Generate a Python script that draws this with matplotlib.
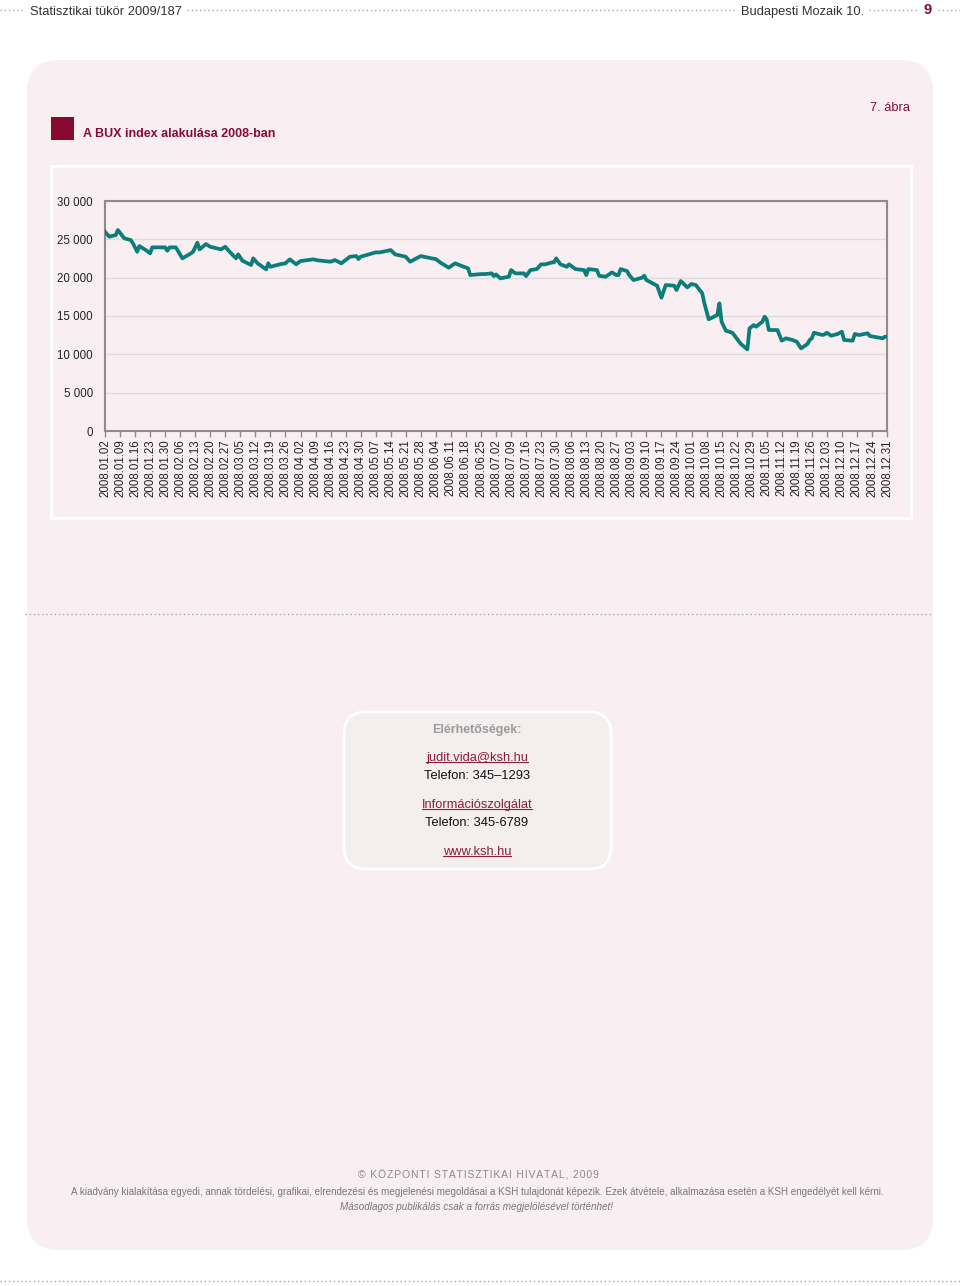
import matplotlib
matplotlib.use("Agg")
import matplotlib.pyplot as plt
import pandas as pd
from matplotlib.patches import FancyBboxPatch, Rectangle

# BUX daily closes (dates / values, month by month)
dates = [
    "2008-01-02", "2008-01-04", "2008-01-07", "2008-01-08", "2008-01-11", "2008-01-14", "2008-01-15",
    "2008-01-17", "2008-01-18", "2008-01-21", "2008-01-23", "2008-01-24", "2008-01-30", "2008-01-31",
    "2008-02-01", "2008-02-04", "2008-02-07", "2008-02-11", "2008-02-12", "2008-02-14", "2008-02-15",
    "2008-02-18", "2008-02-20", "2008-02-25", "2008-02-27", "2008-02-29",
    "2008-03-03", "2008-03-04", "2008-03-06", "2008-03-10", "2008-03-11", "2008-03-13", "2008-03-17",
    "2008-03-18", "2008-03-19", "2008-03-24", "2008-03-26", "2008-03-28", "2008-03-31",
    "2008-04-02", "2008-04-08", "2008-04-10", "2008-04-16", "2008-04-18", "2008-04-21", "2008-04-25",
    "2008-04-28", "2008-04-29", "2008-04-30",
    "2008-05-07", "2008-05-09", "2008-05-14", "2008-05-16", "2008-05-21", "2008-05-23", "2008-05-28",
    "2008-06-02", "2008-06-04", "2008-06-06", "2008-06-10", "2008-06-13", "2008-06-17", "2008-06-19",
    "2008-06-20", "2008-06-25", "2008-06-27", "2008-06-30",
    "2008-07-01", "2008-07-02", "2008-07-04", "2008-07-08", "2008-07-09", "2008-07-11", "2008-07-15",
    "2008-07-16", "2008-07-18", "2008-07-21", "2008-07-23", "2008-07-25", "2008-07-28", "2008-07-29",
    "2008-07-30",
    "2008-08-01", "2008-08-04", "2008-08-05", "2008-08-08", "2008-08-12", "2008-08-13", "2008-08-14",
    "2008-08-18", "2008-08-19", "2008-08-22", "2008-08-25", "2008-08-27", "2008-08-28", "2008-08-29",
    "2008-09-01", "2008-09-02", "2008-09-04", "2008-09-08", "2008-09-09", "2008-09-10", "2008-09-12",
    "2008-09-15", "2008-09-17", "2008-09-19", "2008-09-23", "2008-09-24", "2008-09-26", "2008-09-29",
    "2008-09-30",
    "2008-10-01", "2008-10-03", "2008-10-06", "2008-10-07", "2008-10-09", "2008-10-13", "2008-10-14",
    "2008-10-15", "2008-10-17", "2008-10-20", "2008-10-22", "2008-10-24", "2008-10-27", "2008-10-28",
    "2008-10-30", "2008-10-31",
    "2008-11-03", "2008-11-04", "2008-11-05", "2008-11-06", "2008-11-10", "2008-11-12", "2008-11-14",
    "2008-11-17", "2008-11-19", "2008-11-21", "2008-11-24", "2008-11-25", "2008-11-26", "2008-11-27",
    "2008-12-01", "2008-12-02", "2008-12-03", "2008-12-05", "2008-12-08", "2008-12-10", "2008-12-11",
    "2008-12-15", "2008-12-16", "2008-12-18", "2008-12-22", "2008-12-23", "2008-12-29", "2008-12-30",
    "2008-12-31",
]
bux = [
    25990, 25340, 25560, 26210, 25130, 24910, 24480,
    23380, 24120, 23600, 23170, 23950, 23950, 23510,
    23950, 23950, 22520, 23170, 23380, 24560, 23690,
    24380, 24030, 23690, 24030, 23380,
    22520, 23040, 22210, 21650, 22520, 21870, 21090,
    21870, 21420, 21780, 21870, 22390, 21740,
    22170, 22390, 22260, 22080, 22300, 21870, 22730,
    22820, 22430, 22730,
    23300, 23300, 23600, 23040, 22730, 22080, 22820,
    22520, 22430, 21990, 21300, 21870, 21420, 21220,
    20340, 20470, 20470, 20560,
    20210, 20430, 19910, 20120, 20990, 20560, 20560,
    20210, 20990, 21120, 21740, 21740, 21990, 21990,
    22520,
    21740, 21420, 21740, 21120, 20990, 20340, 21120,
    20990, 20250, 20120, 20690, 20340, 20340, 21120,
    20860, 20340, 19690, 19990, 20250, 19690, 19390,
    18950, 17380, 19040, 18950, 18390, 19560, 18740,
    18950,
    19170, 19040, 17960, 16650, 14570, 15130, 16650,
    14260, 13080, 12820, 12090, 11350, 10650, 13390,
    13820, 13600,
    14260, 14910, 14570, 13170, 13170, 11780, 12090,
    11870, 11650, 10780, 11350, 11870, 12090, 12820,
    12520, 12610, 12820, 12430, 12650, 12950, 11870,
    11780, 12650, 12520, 12740, 12390, 12090, 12300,
    12300,
]
y_ticks = [0, 5000, 10000, 15000, 20000, 25000, 30000]
title = "A BUX index alakulása 2008-ban"

W, H = 960, 1286
PINK = "#F9EFF3"
RED = "#870B30"
TEAL = "#0B7D7A"
plt.rcParams["font.family"] = ["Liberation Sans", "DejaVu Sans"]


def frac(x0, y0, x1, y1):
    return [x0 / W, 1 - y1 / H, (x1 - x0) / W, (y1 - y0) / H]


fig = plt.figure(figsize=(W / 100, H / 100), dpi=100, facecolor="white")

# page layer in pixel coordinates (y downwards)
bg = fig.add_axes([0, 0, 1, 1], zorder=0)
bg.set_xlim(0, W)
bg.set_ylim(H, 0)
bg.axis("off")

dots = dict(color="#A8A8A8", lw=1, ls=(0, (1, 2)))
for x0, x1 in [(0, 25), (187, 736), (869, 917), (938, 960)]:
    bg.plot([x0, x1], [10, 10], **dots)
bg.plot([25, 933], [614, 614], **dots)
bg.plot([0, 960], [1281, 1281], **dots)

bg.text(30, 12, "Statisztikai tükör 2009/187", fontsize=9.3, color="#333333", va="center")
bg.text(864, 12, "Budapesti Mozaik 10.", fontsize=9.3, color="#333333", va="center", ha="right")
bg.text(928, 10, "9", fontsize=10.5, fontweight="bold", color=RED, va="center", ha="center")

bg.add_patch(FancyBboxPatch((27, 60), 906, 1190, boxstyle="round,pad=0,rounding_size=32",
                            fc=PINK, ec="none"))
bg.add_patch(Rectangle((51, 117), 23, 23, fc=RED, ec="none"))
bg.text(83, 134, title, fontsize=9, fontweight="bold", color=RED, va="center")
bg.text(910, 108, "7. ábra", fontsize=9.3, color=RED, va="center", ha="right")
bg.add_patch(Rectangle((51, 166), 860, 352, fc="none", ec="white", lw=2))

# contact box
bg.add_patch(FancyBboxPatch((344, 712), 267, 157, boxstyle="round,pad=0,rounding_size=22",
                            fc="#F4EEEE", ec="white", lw=2))
bg.text(477, 730, "Elérhetőségek:", fontsize=9, fontweight="bold", color="#9B9B9B",
        ha="center", va="center")
links = []
for y, s, link in [(758, "judit.vida@ksh.hu", True), (776, "Telefon: 345–1293", False),
                   (805, "Információszolgálat", True), (823, "Telefon: 345-6789", False),
                   (852, "www.ksh.hu", True)]:
    t = bg.text(477, y, s, fontsize=9.3, color=("#8A1E40" if link else "#111111"),
                ha="center", va="center")
    if link:
        links.append(t)

# footer (copyright line is letter-spaced with hair spaces)
copyright = "© KÖZPONTI STATISZTIKAI HIVATAL, 2009"
bg.text(478, 1175, "\u200a".join(copyright),
        fontsize=7.5, color="#8A8A8A", ha="center", va="center")
bg.text(477, 1192, "A kiadvány kialakítása egyedi, annak tördelési, grafikai, elrendezési és megjelenési "
        "megoldásai a KSH tulajdonát képezik. Ezek átvétele, alkalmazása esetén a KSH engedélyét kell kérni.",
        fontsize=7.1, color="#777777", ha="center", va="center")
bg.text(477, 1207, "Másodlagos publikálás csak a forrás megjelölésével történhet!", fontsize=7.1,
        style="italic", color="#777777", ha="center", va="center")

# the chart
ax = fig.add_axes(frac(105, 201, 887, 431), zorder=2)
ax.set_facecolor("none")
ax.plot(pd.to_datetime(dates), bux, color=TEAL, lw=2.7, solid_joinstyle="round", zorder=3)
ax.set_ylim(0, 30000)
ax.set_yticks(y_ticks)
ax.set_yticklabels([f"{v:,}".replace(",", " ") for v in y_ticks])
ax.set_xlim(pd.Timestamp("2008-01-02"), pd.Timestamp("2008-12-31"))
ticks = pd.date_range("2008-01-02", "2008-12-31", freq="7D")
ax.set_xticks(ticks)
ax.set_xticklabels([d.strftime("%Y.%m.%d") for d in ticks], rotation=90)
ax.yaxis.grid(True, color="#DCDCDC", lw=1)
ax.set_axisbelow(True)
ax.tick_params(axis="x", length=4, width=1, color="#8C8C8C", pad=2, labelsize=8.3, labelcolor="#222222")
ax.tick_params(axis="y", length=0, pad=8.6, labelsize=8.3, labelcolor="#222222")
for sp in ax.spines.values():
    sp.set_color("#8C8C8C")
    sp.set_linewidth(1.5)

# underline the links
fig.canvas.draw()
r = fig.canvas.get_renderer()
inv = bg.transData.inverted()
for t in links:
    bb = t.get_window_extent(r)
    (x0, yb), (x1, _) = inv.transform([(bb.x0, bb.y0), (bb.x1, bb.y1)])
    bg.plot([x0, x1], [yb - 2.5, yb - 2.5], color="#8A1E40", lw=0.8)

fig.savefig("out.png", dpi=100)
